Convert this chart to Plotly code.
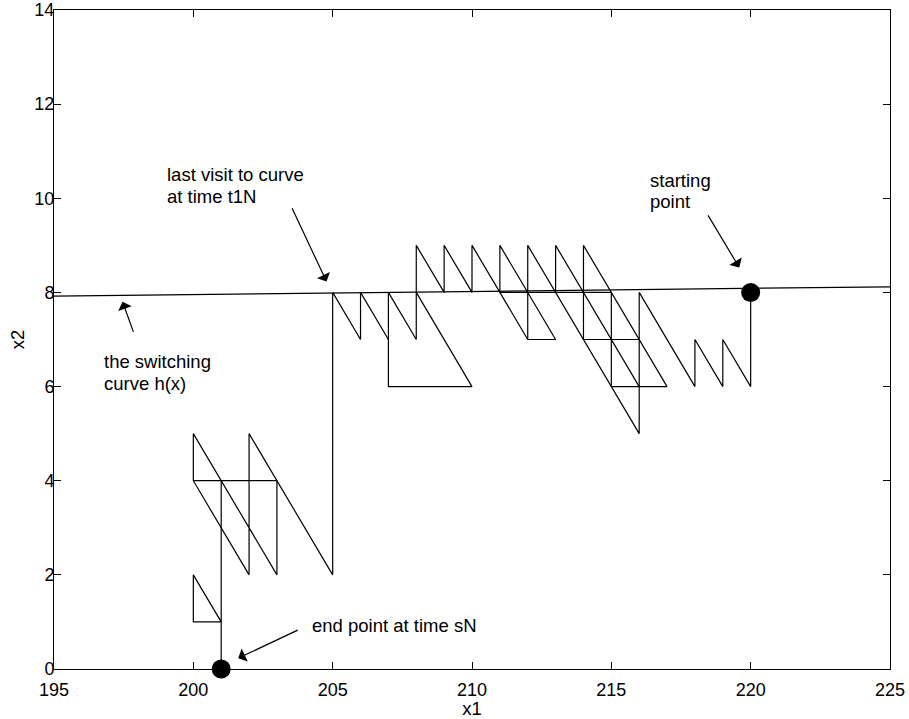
import plotly.graph_objects as go

# Trajectory of the controlled process (polylines separated by None)
path_x = [220, 220, 219, 219, 218, 218, 216, 216, 212, 212, 213, 211, 211, 210, 210, 209, 209, 208, 208, 207, 207, 210, 208, None,
          213, 213, 216, None,
          216, 214, 214, 217, 215, 215, 211, 212, None,
          207, 206, 206, 205, 205, 202, 202, 200, 200, 203, 203, 200, None,
          201, 201, 200, 200, 201, 201]
path_y = [8, 6, 7, 6, 7, 6, 8, 5, 9, 7, 7, 9, 8, 9, 8, 9, 8, 9, 7, 8, 6, 6, 8, None,
          8, 9, 6, None,
          7, 7, 9, 6, 6, 8, 8, 7, None,
          7, 8, 7, 8, 2, 5, 2, 4, 5, 2, 4, 4, None,
          4, 1, 2, 1, 1, 0]

# Switching curve h(x)
curve_x = [195, 225]
curve_y = [7.92, 8.12]

# Start and end points
point_x = [220, 201]
point_y = [8, 0]

x_ticks = [195, 200, 205, 210, 215, 220, 225]
y_ticks = [0, 2, 4, 6, 8, 10, 12, 14]

# Annotation text lines: (text, x, y)
note_lines = [
    ("last visit to curve", 198.98, 10.50),
    ("at time t1N", 198.98, 10.03),
    ("the switching", 196.74, 6.53),
    ("curve h(x)", 196.74, 6.07),
    ("starting", 216.32, 10.37),
    ("point", 216.32, 9.93),
    ("end point at time sN", 204.18, 0.93),
]
# Arrows: (tip x, tip y, tail x, tail y)
arrows = [
    (204.78, 8.23, 203.52, 9.82),
    (197.46, 7.80, 197.87, 7.13),
    (219.59, 8.53, 218.44, 9.67),
    (201.61, 0.23, 203.80, 0.84),
]

FONT = "Liberation Sans, Arial, Helvetica, sans-serif"
FS = 18.5
TFS = 18

fig = go.Figure()
fig.add_trace(go.Scatter(x=curve_x, y=curve_y, mode="lines",
                         line=dict(color="black", width=1.2), hoverinfo="skip"))
fig.add_trace(go.Scatter(x=path_x, y=path_y, mode="lines",
                         line=dict(color="black", width=1.2), connectgaps=False))
fig.add_trace(go.Scatter(x=point_x, y=point_y, mode="markers",
                         marker=dict(color="black", size=19), cliponaxis=False))

annotations = []
for text, tx, ty in note_lines:
    annotations.append(dict(x=tx, y=ty, xref="x", yref="y", text=text, showarrow=False,
                            xanchor="left", yanchor="middle", align="left",
                            font=dict(size=FS, color="black", family=FONT)))
for hx, hy, ax, ay in arrows:
    annotations.append(dict(x=hx, y=hy, xref="x", yref="y", ax=ax, ay=ay,
                            axref="x", ayref="y", text="", showarrow=True,
                            arrowhead=1, arrowsize=2.0, arrowwidth=1.2, arrowcolor="black"))

axis_common = dict(showgrid=False, zeroline=False, showline=True, linecolor="black",
                   linewidth=1, mirror="ticks", ticks="inside", ticklen=7,
                   tickcolor="black", automargin=False, ticklabeloverflow="allow",
                   tickfont=dict(size=TFS, color="black", family=FONT))

fig.update_layout(
    width=909, height=719,
    margin=dict(l=54, r=19, t=10, b=50),
    paper_bgcolor="white", plot_bgcolor="white",
    showlegend=False,
    font=dict(family=FONT, size=FS, color="black"),
    annotations=annotations,
    xaxis=dict(range=[195, 225], tickvals=x_ticks, ticktext=[str(v) for v in x_ticks],
               ticklabelstandoff=4,
               title=dict(text="x1", standoff=2, font=dict(size=FS)), **axis_common),
    yaxis=dict(range=[0, 14], tickvals=y_ticks, ticktext=[str(v) for v in y_ticks],
               ticklabelstandoff=-5,
               title=dict(text="x2", standoff=4, font=dict(size=FS)), **axis_common),
)

fig.write_html("out.html")
